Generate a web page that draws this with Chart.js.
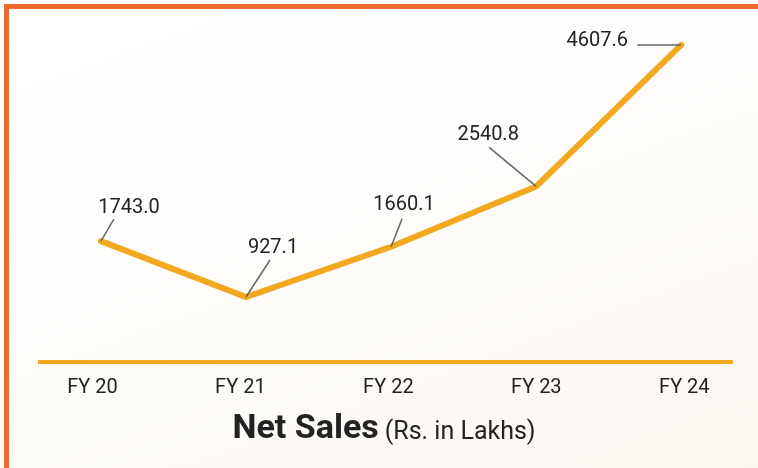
<!DOCTYPE html>
<html>
<head>
<meta charset="utf-8">
<script src="https://cdn.jsdelivr.net/npm/chart.js@4/dist/chart.umd.min.js"></script>
<style>
  html, body { margin: 0; padding: 0; }
  body {
    width: 758px; height: 468px; overflow: hidden; position: relative;
    background: linear-gradient(160deg, #ffffff 0%, #fefdfb 45%, #fbf7f1 100%);
  }
  .frame {
    position: absolute; left: 4px; top: 4px; width: 800px; height: 500px;
    border-left: 5px solid #ec6a2c; border-top: 5px solid #ec6a2c;
    box-sizing: border-box;
  }
  #wrap { position: absolute; left: 0; top: 0; width: 758px; height: 468px; }
</style>
</head>
<body>
<div class="frame"></div>
<div id="wrap"><canvas id="salesChart" width="758" height="468"></canvas></div>
<script>
// data
const years = ['FY 20', 'FY 21', 'FY 22', 'FY 23', 'FY 24'];
const netSales = [1743.0, 927.1, 1660.1, 2540.8, 4607.6];
const titleMain = 'Net Sales';
const titleUnit = '(Rs. in Lakhs)';

// where each value label sits, relative to its point (text centre, leader end)
const labelOffsets = [
    { tx: 28, ty: -33, lx: 13, ly: -22 },
    { tx: 27, ty: -49, lx: 24, ly: -37 },
    { tx: 13, ty: -42, lx: 11, ly: -28 },
    { tx: -48, ty: -51, lx: -47, ly: -39 },
    { tx: -84, ty: -4, lx: -44, ly: 0 }
];

const lineColor = '#f3a91f';
const textColor = '#222222';

// value labels with little leader lines
const valueLabels = {
    id: 'valueLabels',
    afterDatasetsDraw(chart) {
        const ctx = chart.ctx;
        const meta = chart.getDatasetMeta(0);
        ctx.save();
        meta.data.forEach((pt, i) => {
            const o = labelOffsets[i];
            ctx.strokeStyle = '#666666';
            ctx.lineWidth = 1.5;
            ctx.beginPath();
            ctx.moveTo(pt.x, pt.y);
            ctx.lineTo(pt.x + o.lx, pt.y + o.ly);
            ctx.stroke();
            ctx.fillStyle = textColor;
            ctx.font = '20px Roboto';
            ctx.textAlign = 'center';
            ctx.textBaseline = 'middle';
            ctx.fillText(netSales[i].toFixed(1), pt.x + o.tx, pt.y + o.ty);
        });
        ctx.restore();
    }
};

// title under the axis, bold part + normal part
const bottomTitle = {
    id: 'bottomTitle',
    afterDraw(chart) {
        const ctx = chart.ctx;
        const area = chart.chartArea;
        ctx.save();
        ctx.fillStyle = textColor;
        ctx.textBaseline = 'alphabetic';
        ctx.textAlign = 'left';
        ctx.font = 'bold 34px Roboto';
        const w1 = ctx.measureText(titleMain).width;
        ctx.font = '25px Roboto';
        const w2 = ctx.measureText(titleUnit).width;
        const gap = 6;
        let x = (area.left + area.right) / 2 - 2 - (w1 + gap + w2) / 2;
        const y = area.bottom + 76;
        ctx.font = 'bold 34px Roboto';
        ctx.fillText(titleMain, x, y);
        ctx.font = '25px Roboto';
        ctx.fillText(titleUnit, x + w1 + gap, y + 1);
        ctx.restore();
    }
};

const ctx = document.getElementById('salesChart').getContext('2d');
const salesChart = new Chart(ctx, {
    type: 'line',
    data: {
        datasets: [{
            xAxisID: 'x',
            data: netSales.map((v, i) => ({ x: i, y: v })),
            borderColor: lineColor,
            borderWidth: 6,
            borderCapStyle: 'round',
            borderJoinStyle: 'miter',
            pointRadius: 0,
            tension: 0,
            fill: false
        }]
    },
    options: {
        responsive: false,
        animation: false,
        layout: { padding: { left: 40, right: 26, top: 18, bottom: 0 } },
        plugins: { legend: { display: false }, tooltip: { enabled: false } },
        scales: {
            // scale for the line itself
            x: {
                type: 'linear',
                display: false,
                min: -0.42,
                max: 4.35
            },
            // scale for the year labels (spaced a bit wider than the points)
            xLabels: {
                type: 'linear',
                position: 'bottom',
                min: -0.354,
                max: 4.322,
                grid: { display: false, drawTicks: false },
                border: { display: true, color: lineColor, width: 4 },
                afterBuildTicks: (scale) => {
                    scale.ticks = years.map((y, i) => ({ value: i }));
                },
                afterFit: (scale) => { scale.height = 106; },
                ticks: {
                    padding: 14,
                    color: textColor,
                    font: { family: 'Roboto', size: 20 },
                    maxRotation: 0,
                    callback: (v) => years[v]
                }
            },
            y: {
                display: false,
                min: -22,
                max: 5000
            }
        }
    },
    plugins: [valueLabels, bottomTitle]
});
</script>
</body>
</html>
